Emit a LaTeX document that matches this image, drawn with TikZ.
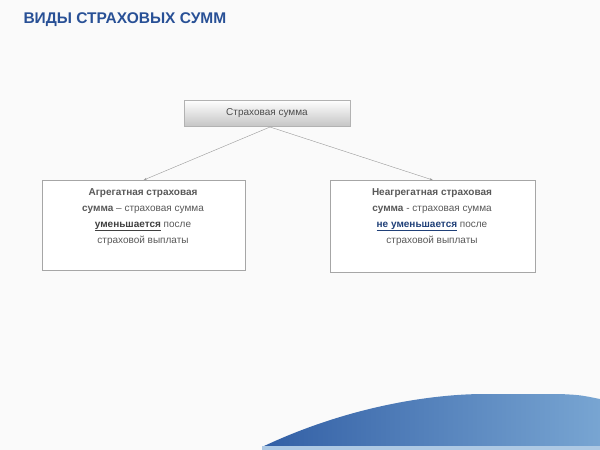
\documentclass[tikz,border=0pt]{standalone}
\usepackage{fontspec}
\setmainfont{Liberation Sans}
\usetikzlibrary{arrows.meta}
\definecolor{ttl}{RGB}{40,80,150}
\definecolor{bl1}{RGB}{50,95,165}
\definecolor{bl2}{RGB}{120,165,210}
\begin{document}
\begin{tikzpicture}[x=1pt,y=-1pt,
  txtbox/.style={draw=gray!70,fill=white,minimum width=203pt,minimum height=90pt,inner sep=0pt},
  boxtext/.style={align=center,font=\fontsize{10}{16}\selectfont,text=black!65,inner sep=0pt,anchor=north},
  conn/.style={draw=gray!80,-{Stealth[length=3pt,width=2pt]}}]
\useasboundingbox (0,0) rectangle (600,450);
\fill[gray!4] (0,0) rectangle (600,450);
\node[anchor=west,font=\bfseries\fontsize{15.5}{17}\selectfont,text=ttl] (title) at (20,20) {ВИДЫ СТРАХОВЫХ СУММ};
\shade[top color=white,bottom color=gray!45,draw=gray!60] (184,100) rectangle (350,126);
\node[font=\fontsize{10}{12}\selectfont,text=black!70] (top) at (267,113) {Страховая сумма};
\coordinate (topb) at (270,127);
\node[txtbox,anchor=north west] (L) at (42,180) {};
\node[txtbox,anchor=north west,minimum width=205pt,minimum height=92pt] (R) at (330,180) {};
\node[boxtext] (Lt) at (143,188) {\textbf{Агрегатная страховая}\\\textbf{сумма} – страховая сумма\\\textcolor{black!75}{\underline{\textbf{уменьшается}}} после\\страховой выплаты};
\node[boxtext] (Rt) at (432,188) {\textbf{Неагрегатная страховая}\\\textbf{сумма} - страховая сумма\\\textcolor{ttl!80!black}{\underline{\textbf{не уменьшается}}} после\\страховой выплаты};
\draw[conn] (topb) -- (L.north);
\draw[conn] (topb) -- (R.north);
\shade[left color=bl1,right color=bl2] (262,447) .. controls (340,410) and (420,395) .. (480,394) -- (560,394) .. controls (580,395) .. (600,399) -- (600,447) -- cycle;
\fill[bl2!60] (262,446) rectangle (600,450);
\end{tikzpicture}
\end{document}
